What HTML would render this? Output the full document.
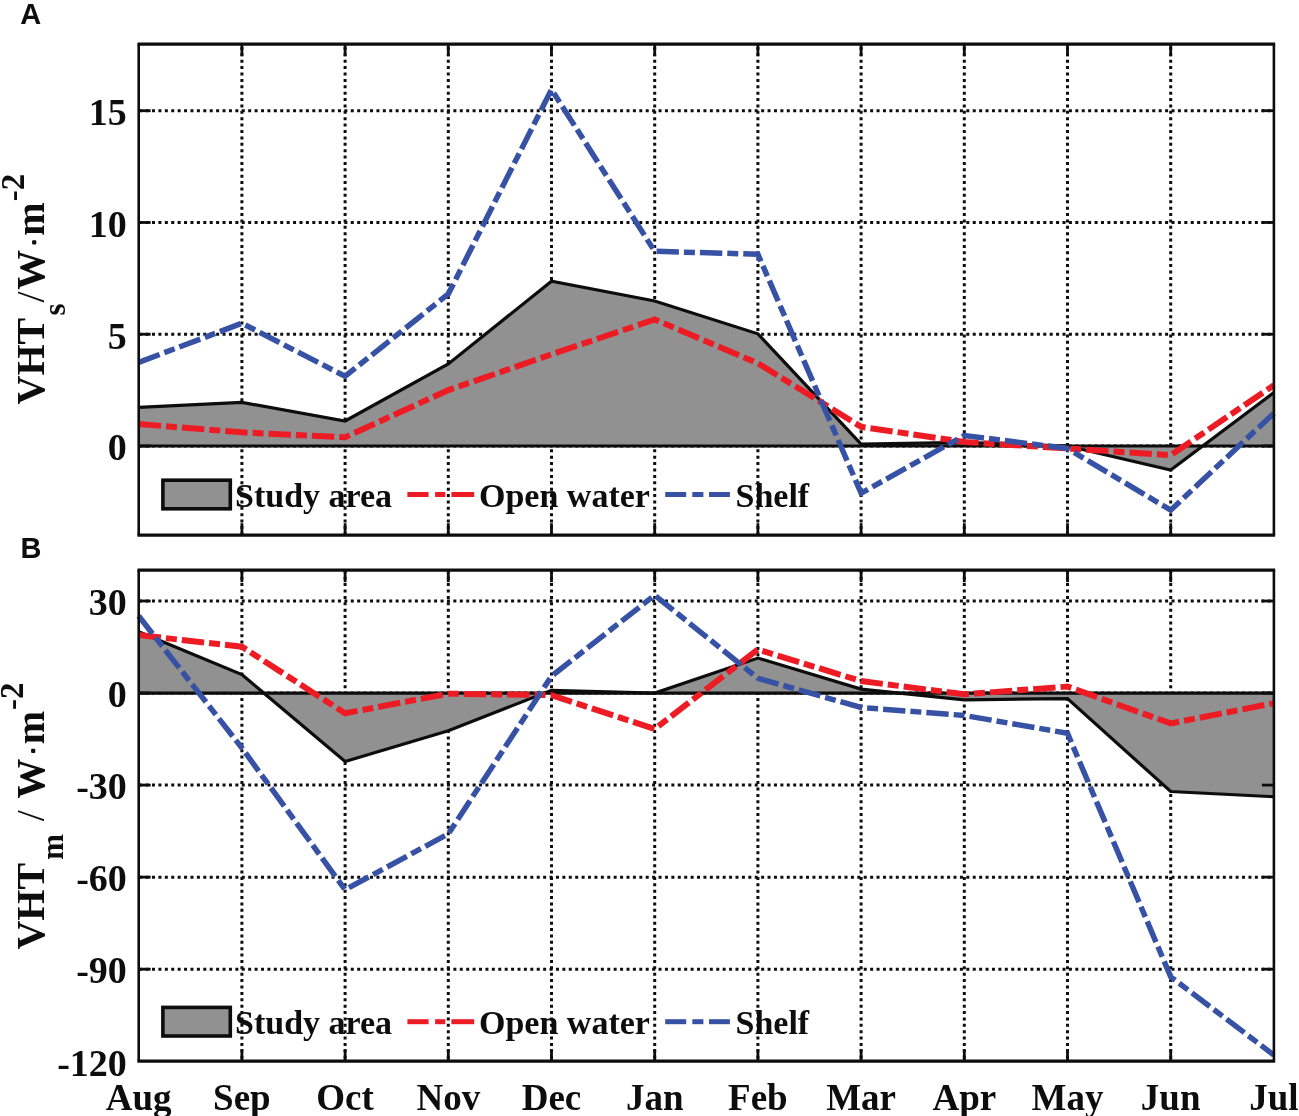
<!DOCTYPE html>
<html><head><meta charset="utf-8"><style>
html,body{margin:0;padding:0;background:#fff;}
svg{display:block;filter:blur(0.4px);}
.g{stroke:#0d0d0d;stroke-width:3.0;fill:none;}
.tk{stroke:#0d0d0d;stroke-width:2.8;}
.d{fill:none;stroke-dasharray:22.4 5 11 5;stroke-linejoin:miter;stroke-miterlimit:10;}
.r{stroke:#ed1c24;stroke-width:6;}
.b{stroke:#3752a5;stroke-width:5.5;}
text{font-family:"Liberation Serif",serif;font-weight:bold;fill:#0d0d0d;}
.tl{font-size:38px;}
.xl{font-size:37px;}
.lg{font-size:34px;}
.yl{font-size:40px;}
.sl{font-weight:normal;}
.ys{font-size:31px;}
.yp{font-size:33px;}
.pl{font-family:"Liberation Sans",sans-serif;font-weight:bold;font-size:29px;stroke:none;}
</style></head><body>
<svg width="1299" height="1116" viewBox="0 0 1299 1116">
<rect width="1299" height="1116" fill="#fff"/>
<line x1="241.90" y1="44.20" x2="241.90" y2="535.20" class="g" stroke-dasharray="3.0 3.387" stroke-dashoffset="-2.76"/>
<line x1="345.10" y1="44.20" x2="345.10" y2="535.20" class="g" stroke-dasharray="3.0 3.387" stroke-dashoffset="-2.76"/>
<line x1="448.30" y1="44.20" x2="448.30" y2="535.20" class="g" stroke-dasharray="3.0 3.387" stroke-dashoffset="-2.76"/>
<line x1="551.50" y1="44.20" x2="551.50" y2="535.20" class="g" stroke-dasharray="3.0 3.387" stroke-dashoffset="-2.76"/>
<line x1="654.70" y1="44.20" x2="654.70" y2="535.20" class="g" stroke-dasharray="3.0 3.387" stroke-dashoffset="-2.76"/>
<line x1="757.90" y1="44.20" x2="757.90" y2="535.20" class="g" stroke-dasharray="3.0 3.387" stroke-dashoffset="-2.76"/>
<line x1="861.10" y1="44.20" x2="861.10" y2="535.20" class="g" stroke-dasharray="3.0 3.387" stroke-dashoffset="-2.76"/>
<line x1="964.30" y1="44.20" x2="964.30" y2="535.20" class="g" stroke-dasharray="3.0 3.387" stroke-dashoffset="-2.76"/>
<line x1="1067.50" y1="44.20" x2="1067.50" y2="535.20" class="g" stroke-dasharray="3.0 3.387" stroke-dashoffset="-2.76"/>
<line x1="1170.70" y1="44.20" x2="1170.70" y2="535.20" class="g" stroke-dasharray="3.0 3.387" stroke-dashoffset="-2.76"/>
<line x1="138.70" y1="446.00" x2="1273.90" y2="446.00" class="g" stroke-dasharray="3.0 3.412" stroke-dashoffset="-0.476"/>
<line x1="138.70" y1="334.24" x2="1273.90" y2="334.24" class="g" stroke-dasharray="3.0 3.412" stroke-dashoffset="-0.476"/>
<line x1="138.70" y1="222.47" x2="1273.90" y2="222.47" class="g" stroke-dasharray="3.0 3.412" stroke-dashoffset="-0.476"/>
<line x1="138.70" y1="110.70" x2="1273.90" y2="110.70" class="g" stroke-dasharray="3.0 3.412" stroke-dashoffset="-0.476"/>
<polygon points="138.70,446.00 138.70,407.33 241.90,402.41 345.10,420.96 448.30,363.96 551.50,281.26 654.70,300.93 757.90,333.79 861.10,444.21 964.30,442.42 1067.50,446.00 1170.70,470.14 1273.90,392.58 1273.90,446.00" fill="#919191" stroke="none"/>
<line x1="138.70" y1="446.00" x2="1273.90" y2="446.00" stroke="#0d0d0d" stroke-width="3.2"/>
<polyline points="138.70,407.33 241.90,402.41 345.10,420.96 448.30,363.96 551.50,281.26 654.70,300.93 757.90,333.79 861.10,444.21 964.30,442.42 1067.50,446.00 1170.70,470.14 1273.90,392.58" fill="none" stroke="#0d0d0d" stroke-width="3.2" stroke-linejoin="miter"/>
<polyline points="138.70,424.09 241.90,432.36 345.10,437.28 448.30,390.12 551.50,354.35 654.70,319.48 757.90,363.29 861.10,426.78 964.30,441.98 1067.50,448.46 1170.70,455.16 1273.90,385.20" class="d r"/>
<polyline points="138.70,362.40 241.90,323.28 345.10,376.26 448.30,294.00 551.50,89.47 654.70,251.31 757.90,254.21 861.10,493.16 964.30,435.49 1067.50,448.46 1170.70,510.15 1273.90,413.14" class="d b"/>
<line x1="241.90" y1="44.20" x2="241.90" y2="56.20" class="tk"/>
<line x1="241.90" y1="535.20" x2="241.90" y2="523.20" class="tk"/>
<line x1="345.10" y1="44.20" x2="345.10" y2="56.20" class="tk"/>
<line x1="345.10" y1="535.20" x2="345.10" y2="523.20" class="tk"/>
<line x1="448.30" y1="44.20" x2="448.30" y2="56.20" class="tk"/>
<line x1="448.30" y1="535.20" x2="448.30" y2="523.20" class="tk"/>
<line x1="551.50" y1="44.20" x2="551.50" y2="56.20" class="tk"/>
<line x1="551.50" y1="535.20" x2="551.50" y2="523.20" class="tk"/>
<line x1="654.70" y1="44.20" x2="654.70" y2="56.20" class="tk"/>
<line x1="654.70" y1="535.20" x2="654.70" y2="523.20" class="tk"/>
<line x1="757.90" y1="44.20" x2="757.90" y2="56.20" class="tk"/>
<line x1="757.90" y1="535.20" x2="757.90" y2="523.20" class="tk"/>
<line x1="861.10" y1="44.20" x2="861.10" y2="56.20" class="tk"/>
<line x1="861.10" y1="535.20" x2="861.10" y2="523.20" class="tk"/>
<line x1="964.30" y1="44.20" x2="964.30" y2="56.20" class="tk"/>
<line x1="964.30" y1="535.20" x2="964.30" y2="523.20" class="tk"/>
<line x1="1067.50" y1="44.20" x2="1067.50" y2="56.20" class="tk"/>
<line x1="1067.50" y1="535.20" x2="1067.50" y2="523.20" class="tk"/>
<line x1="1170.70" y1="44.20" x2="1170.70" y2="56.20" class="tk"/>
<line x1="1170.70" y1="535.20" x2="1170.70" y2="523.20" class="tk"/>
<line x1="138.70" y1="446.00" x2="150.70" y2="446.00" class="tk"/>
<line x1="1273.90" y1="446.00" x2="1261.90" y2="446.00" class="tk"/>
<line x1="138.70" y1="334.24" x2="150.70" y2="334.24" class="tk"/>
<line x1="1273.90" y1="334.24" x2="1261.90" y2="334.24" class="tk"/>
<line x1="138.70" y1="222.47" x2="150.70" y2="222.47" class="tk"/>
<line x1="1273.90" y1="222.47" x2="1261.90" y2="222.47" class="tk"/>
<line x1="138.70" y1="110.70" x2="150.70" y2="110.70" class="tk"/>
<line x1="1273.90" y1="110.70" x2="1261.90" y2="110.70" class="tk"/>
<line x1="137.45" y1="44.20" x2="1275.15" y2="44.20" stroke="#0d0d0d" stroke-width="3.2"/>
<line x1="137.45" y1="535.20" x2="1275.15" y2="535.20" stroke="#0d0d0d" stroke-width="3.2"/>
<line x1="138.70" y1="44.20" x2="138.70" y2="535.20" stroke="#0d0d0d" stroke-width="2.6"/>
<line x1="1273.90" y1="44.20" x2="1273.90" y2="535.20" stroke="#0d0d0d" stroke-width="2.6"/>
<text x="126.8" y="460.30" class="tl" text-anchor="end">0</text>
<text x="126.8" y="348.54" class="tl" text-anchor="end">5</text>
<text x="126.8" y="236.77" class="tl" text-anchor="end">10</text>
<text x="126.8" y="125.00" class="tl" text-anchor="end">15</text>
<rect x="162.9" y="480.20" width="67.4" height="28.6" fill="#919191" stroke="#0d0d0d" stroke-width="3.6"/>
<text x="235" y="506.50" class="lg">Study area</text>
<line x1="407.4" y1="494.50" x2="428.6" y2="494.50" stroke="#ed1c24" stroke-width="5"/>
<line x1="435.1" y1="494.50" x2="445.3" y2="494.50" stroke="#ed1c24" stroke-width="5"/>
<line x1="451.4" y1="494.50" x2="474.2" y2="494.50" stroke="#ed1c24" stroke-width="5"/>
<text x="479" y="506.50" class="lg">Open water</text>
<line x1="665.2" y1="494.50" x2="686.2" y2="494.50" stroke="#3752a5" stroke-width="5"/>
<line x1="692.3" y1="494.50" x2="703.4" y2="494.50" stroke="#3752a5" stroke-width="5"/>
<line x1="709.0" y1="494.50" x2="729.9" y2="494.50" stroke="#3752a5" stroke-width="5"/>
<text x="735.5" y="506.50" class="lg">Shelf</text>
<text transform="translate(44.3,404.4) rotate(-90)" class="yl">VHT</text>
<text transform="translate(65.3,315.6) rotate(-90)" class="ys">s</text>
<text transform="translate(44.3,302.6) rotate(-90)" class="yl sl">/</text>
<text transform="translate(44.3,289.7) rotate(-90)" class="yl">W</text>
<rect x="32.1" y="240.2" width="4.2" height="4.2" rx="1" fill="#0d0d0d"/>
<text transform="translate(44.3,235.7) rotate(-90)" class="yl">m</text>
<text transform="translate(23.5,201.3) rotate(-90)" class="yp">-2</text>
<line x1="241.90" y1="570.20" x2="241.90" y2="1061.20" class="g" stroke-dasharray="3.0 3.387" stroke-dashoffset="-0.14"/>
<line x1="345.10" y1="570.20" x2="345.10" y2="1061.20" class="g" stroke-dasharray="3.0 3.387" stroke-dashoffset="-0.14"/>
<line x1="448.30" y1="570.20" x2="448.30" y2="1061.20" class="g" stroke-dasharray="3.0 3.387" stroke-dashoffset="-0.14"/>
<line x1="551.50" y1="570.20" x2="551.50" y2="1061.20" class="g" stroke-dasharray="3.0 3.387" stroke-dashoffset="-0.14"/>
<line x1="654.70" y1="570.20" x2="654.70" y2="1061.20" class="g" stroke-dasharray="3.0 3.387" stroke-dashoffset="-0.14"/>
<line x1="757.90" y1="570.20" x2="757.90" y2="1061.20" class="g" stroke-dasharray="3.0 3.387" stroke-dashoffset="-0.14"/>
<line x1="861.10" y1="570.20" x2="861.10" y2="1061.20" class="g" stroke-dasharray="3.0 3.387" stroke-dashoffset="-0.14"/>
<line x1="964.30" y1="570.20" x2="964.30" y2="1061.20" class="g" stroke-dasharray="3.0 3.387" stroke-dashoffset="-0.14"/>
<line x1="1067.50" y1="570.20" x2="1067.50" y2="1061.20" class="g" stroke-dasharray="3.0 3.387" stroke-dashoffset="-0.14"/>
<line x1="1170.70" y1="570.20" x2="1170.70" y2="1061.20" class="g" stroke-dasharray="3.0 3.387" stroke-dashoffset="-0.14"/>
<line x1="138.70" y1="601.01" x2="1273.90" y2="601.01" class="g" stroke-dasharray="3.0 3.412" stroke-dashoffset="-0.476"/>
<line x1="138.70" y1="693.05" x2="1273.90" y2="693.05" class="g" stroke-dasharray="3.0 3.412" stroke-dashoffset="-0.476"/>
<line x1="138.70" y1="785.09" x2="1273.90" y2="785.09" class="g" stroke-dasharray="3.0 3.412" stroke-dashoffset="-0.476"/>
<line x1="138.70" y1="877.13" x2="1273.90" y2="877.13" class="g" stroke-dasharray="3.0 3.412" stroke-dashoffset="-0.476"/>
<line x1="138.70" y1="969.17" x2="1273.90" y2="969.17" class="g" stroke-dasharray="3.0 3.412" stroke-dashoffset="-0.476"/>
<polygon points="138.70,693.05 138.70,631.69 241.90,674.64 345.10,761.47 448.30,730.79 551.50,690.29 654.70,693.05 757.90,658.07 861.10,689.06 964.30,699.80 1067.50,698.57 1170.70,791.53 1273.90,796.75 1273.90,693.05" fill="#919191" stroke="none"/>
<line x1="138.70" y1="693.05" x2="1273.90" y2="693.05" stroke="#0d0d0d" stroke-width="3.2"/>
<polyline points="138.70,631.69 241.90,674.64 345.10,761.47 448.30,730.79 551.50,690.29 654.70,693.05 757.90,658.07 861.10,689.06 964.30,699.80 1067.50,698.57 1170.70,791.53 1273.90,796.75" fill="none" stroke="#0d0d0d" stroke-width="3.2" stroke-linejoin="miter"/>
<polyline points="138.70,635.06 241.90,646.72 345.10,713.30 448.30,693.66 551.50,695.20 654.70,728.95 757.90,649.48 861.10,681.08 964.30,694.28 1067.50,686.61 1170.70,723.42 1273.90,703.17" class="d r"/>
<polyline points="138.70,616.04 241.90,747.97 345.10,889.71 448.30,833.87 551.50,676.18 654.70,595.18 757.90,678.32 861.10,707.47 964.30,715.45 1067.50,733.24 1170.70,976.84 1273.90,1055.07" class="d b"/>
<line x1="241.90" y1="570.20" x2="241.90" y2="582.20" class="tk"/>
<line x1="241.90" y1="1061.20" x2="241.90" y2="1049.20" class="tk"/>
<line x1="345.10" y1="570.20" x2="345.10" y2="582.20" class="tk"/>
<line x1="345.10" y1="1061.20" x2="345.10" y2="1049.20" class="tk"/>
<line x1="448.30" y1="570.20" x2="448.30" y2="582.20" class="tk"/>
<line x1="448.30" y1="1061.20" x2="448.30" y2="1049.20" class="tk"/>
<line x1="551.50" y1="570.20" x2="551.50" y2="582.20" class="tk"/>
<line x1="551.50" y1="1061.20" x2="551.50" y2="1049.20" class="tk"/>
<line x1="654.70" y1="570.20" x2="654.70" y2="582.20" class="tk"/>
<line x1="654.70" y1="1061.20" x2="654.70" y2="1049.20" class="tk"/>
<line x1="757.90" y1="570.20" x2="757.90" y2="582.20" class="tk"/>
<line x1="757.90" y1="1061.20" x2="757.90" y2="1049.20" class="tk"/>
<line x1="861.10" y1="570.20" x2="861.10" y2="582.20" class="tk"/>
<line x1="861.10" y1="1061.20" x2="861.10" y2="1049.20" class="tk"/>
<line x1="964.30" y1="570.20" x2="964.30" y2="582.20" class="tk"/>
<line x1="964.30" y1="1061.20" x2="964.30" y2="1049.20" class="tk"/>
<line x1="1067.50" y1="570.20" x2="1067.50" y2="582.20" class="tk"/>
<line x1="1067.50" y1="1061.20" x2="1067.50" y2="1049.20" class="tk"/>
<line x1="1170.70" y1="570.20" x2="1170.70" y2="582.20" class="tk"/>
<line x1="1170.70" y1="1061.20" x2="1170.70" y2="1049.20" class="tk"/>
<line x1="138.70" y1="601.01" x2="150.70" y2="601.01" class="tk"/>
<line x1="1273.90" y1="601.01" x2="1261.90" y2="601.01" class="tk"/>
<line x1="138.70" y1="693.05" x2="150.70" y2="693.05" class="tk"/>
<line x1="1273.90" y1="693.05" x2="1261.90" y2="693.05" class="tk"/>
<line x1="138.70" y1="785.09" x2="150.70" y2="785.09" class="tk"/>
<line x1="1273.90" y1="785.09" x2="1261.90" y2="785.09" class="tk"/>
<line x1="138.70" y1="877.13" x2="150.70" y2="877.13" class="tk"/>
<line x1="1273.90" y1="877.13" x2="1261.90" y2="877.13" class="tk"/>
<line x1="138.70" y1="969.17" x2="150.70" y2="969.17" class="tk"/>
<line x1="1273.90" y1="969.17" x2="1261.90" y2="969.17" class="tk"/>
<line x1="137.45" y1="570.20" x2="1275.15" y2="570.20" stroke="#0d0d0d" stroke-width="3.2"/>
<line x1="137.45" y1="1061.20" x2="1275.15" y2="1061.20" stroke="#0d0d0d" stroke-width="3.2"/>
<line x1="138.70" y1="570.20" x2="138.70" y2="1061.20" stroke="#0d0d0d" stroke-width="2.6"/>
<line x1="1273.90" y1="570.20" x2="1273.90" y2="1061.20" stroke="#0d0d0d" stroke-width="2.6"/>
<text x="126.8" y="615.31" class="tl" text-anchor="end">30</text>
<text x="126.8" y="707.35" class="tl" text-anchor="end">0</text>
<text x="126.8" y="799.39" class="tl" text-anchor="end">-30</text>
<text x="126.8" y="891.43" class="tl" text-anchor="end">-60</text>
<text x="126.8" y="983.47" class="tl" text-anchor="end">-90</text>
<text x="126.8" y="1075.51" class="tl" text-anchor="end">-120</text>
<rect x="162.9" y="1007.40" width="67.4" height="28.6" fill="#919191" stroke="#0d0d0d" stroke-width="3.6"/>
<text x="235" y="1033.70" class="lg">Study area</text>
<line x1="407.4" y1="1021.70" x2="428.6" y2="1021.70" stroke="#ed1c24" stroke-width="5"/>
<line x1="435.1" y1="1021.70" x2="445.3" y2="1021.70" stroke="#ed1c24" stroke-width="5"/>
<line x1="451.4" y1="1021.70" x2="474.2" y2="1021.70" stroke="#ed1c24" stroke-width="5"/>
<text x="479" y="1033.70" class="lg">Open water</text>
<line x1="665.2" y1="1021.70" x2="686.2" y2="1021.70" stroke="#3752a5" stroke-width="5"/>
<line x1="692.3" y1="1021.70" x2="703.4" y2="1021.70" stroke="#3752a5" stroke-width="5"/>
<line x1="709.0" y1="1021.70" x2="729.9" y2="1021.70" stroke="#3752a5" stroke-width="5"/>
<text x="735.5" y="1033.70" class="lg">Shelf</text>
<text transform="translate(43.7,949.6) rotate(-90)" class="yl">VHT</text>
<text transform="translate(63.4,859.7) rotate(-90)" class="ys">m</text>
<text transform="translate(43.7,821.2) rotate(-90)" class="yl sl">/</text>
<text transform="translate(43.7,798.6) rotate(-90)" class="yl">W</text>
<rect x="31.1" y="748.7" width="4.2" height="4.2" rx="1" fill="#0d0d0d"/>
<text transform="translate(43.7,744.2) rotate(-90)" class="yl">m</text>
<text transform="translate(22.7,710.1) rotate(-90)" class="yp">-2</text>
<text x="138.70" y="1110.2" class="xl" text-anchor="middle">Aug</text>
<text x="241.90" y="1110.2" class="xl" text-anchor="middle">Sep</text>
<text x="345.10" y="1110.2" class="xl" text-anchor="middle">Oct</text>
<text x="448.30" y="1110.2" class="xl" text-anchor="middle">Nov</text>
<text x="551.50" y="1110.2" class="xl" text-anchor="middle">Dec</text>
<text x="654.70" y="1110.2" class="xl" text-anchor="middle">Jan</text>
<text x="757.90" y="1110.2" class="xl" text-anchor="middle">Feb</text>
<text x="861.10" y="1110.2" class="xl" text-anchor="middle">Mar</text>
<text x="964.30" y="1110.2" class="xl" text-anchor="middle">Apr</text>
<text x="1067.50" y="1110.2" class="xl" text-anchor="middle">May</text>
<text x="1170.70" y="1110.2" class="xl" text-anchor="middle">Jun</text>
<text x="1273.90" y="1110.2" class="xl" text-anchor="middle">Jul</text>
<text x="20.2" y="23.6" class="pl">A</text>
<text x="20.6" y="557.6" class="pl">B</text>
</svg>
</body></html>
